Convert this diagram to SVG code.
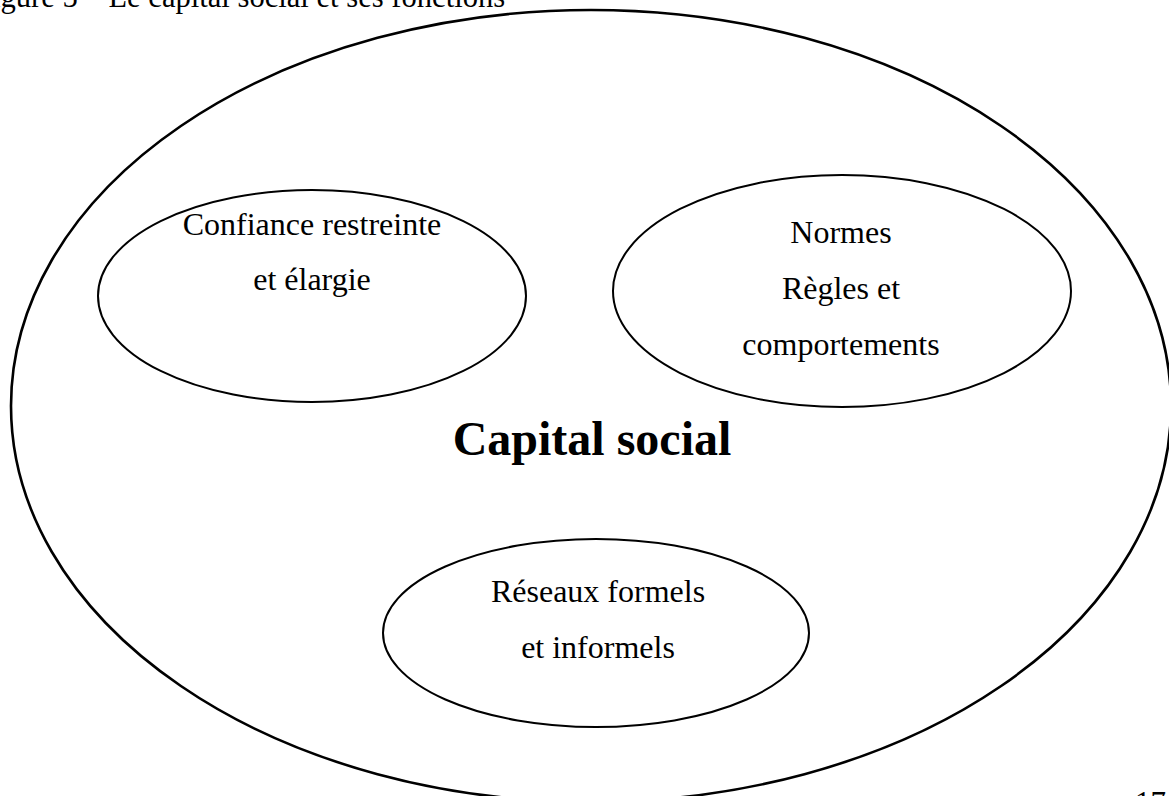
<svg xmlns="http://www.w3.org/2000/svg" width="1169" height="796" viewBox="0 0 1169 796">
  <style>
    .txt { font-family: "Liberation Serif", "Times New Roman", serif; fill: #000; }
    .lbl { font-size: 32px; text-anchor: middle; }
    .outer { fill: none; stroke: #000; stroke-width: 2.6; }
    .inner { fill: none; stroke: #000; stroke-width: 2; }
  </style>
  <rect width="1169" height="796" fill="#fff"/>

  <!-- caption (page top edge trims it) -->
  <text class="txt" x="-25" y="7" font-size="30.6">Figure 5 – Le capital social et ses fonctions</text>

  <!-- outer boundary: social capital -->
  <g id="capital-social">
    <ellipse class="outer" cx="591" cy="406" rx="580" ry="396"/>
    <text class="txt" x="592" y="455" font-size="48" font-weight="bold" text-anchor="middle">Capital social</text>
  </g>

  <g id="confiance">
    <ellipse class="inner" cx="312" cy="296" rx="214" ry="106"/>
    <text class="txt lbl" x="312" y="235">Confiance restreinte</text>
    <text class="txt lbl" x="312" y="290">et élargie</text>
  </g>

  <g id="normes">
    <ellipse class="inner" cx="842" cy="291" rx="229" ry="116"/>
    <text class="txt lbl" x="841" y="243">Normes</text>
    <text class="txt lbl" x="841" y="299">Règles et</text>
    <text class="txt lbl" x="841" y="355">comportements</text>
  </g>

  <g id="reseaux">
    <ellipse class="inner" cx="596" cy="633" rx="213" ry="94"/>
    <text class="txt lbl" x="598" y="602">Réseaux formels</text>
    <text class="txt lbl" x="598" y="658">et informels</text>
  </g>

  <g id="connectors"></g>

  <!-- page number (page bottom edge trims it) -->
  <text class="txt" x="1135" y="813" font-size="31">17</text>
</svg>
